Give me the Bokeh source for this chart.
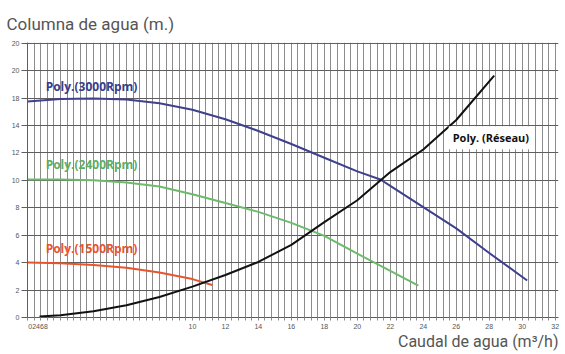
import numpy as np
from bokeh.plotting import figure
from bokeh.models import FixedTicker, Label, Range1d, Title
from bokeh.embed import file_html
from bokeh.resources import INLINE

# ---- data ----
rpm3000_x = [0.0, 2, 4, 6, 8, 10, 12, 14, 16, 18, 20, 21.4, 22, 24, 26, 28, 30.3]
rpm3000_y = [15.75, 15.93, 15.97, 15.9, 15.62, 15.15, 14.45, 13.6, 12.65, 11.65, 10.65,
             10.06, 9.6, 8.05, 6.5, 4.7, 2.7]

rpm2400_x = [0.0, 2, 4, 6, 8, 10, 12, 14, 16, 18, 20, 22, 23.7]
rpm2400_y = [10.06, 10.06, 10.0, 9.85, 9.55, 8.98, 8.35, 7.7, 6.9, 5.95, 4.65, 3.4, 2.33]

rpm1500_x = [0.0, 2, 4, 6, 8, 10, 11.2]
rpm1500_y = [4.01, 3.95, 3.83, 3.62, 3.28, 2.8, 2.37]

reseau_x = [0.73, 2, 4, 6, 8, 10, 12, 14, 16, 18, 20, 22, 24, 26, 28.3]
reseau_y = [0.07, 0.17, 0.45, 0.9, 1.5, 2.25, 3.1, 4.05, 5.3, 6.95, 8.55, 10.6, 12.25, 14.4, 17.64]

series_names = ["Poly.(3000Rpm)", "Poly.(2400Rpm)", "Poly.(1500Rpm)", "Poly. (Réseau)"]

y_tick_values = [0, 2, 4, 6, 8, 10, 12, 14, 16, 18, 20]
y_tick_labels = ["0", "2", "4", "6", "8", "10", "12", "14", "18", "20", "20"]
x_tick_values = [0.64, 10, 12, 14, 16, 18, 20, 22, 24, 26, 28, 30, 32]
x_tick_labels = ["02468", "10", "12", "14", "16", "18", "20", "22", "24", "26", "28", "30", "32"]

y_title = "Columna de agua (m.)"
x_title = "Caudal de agua (m\u00b3/h)"

# ---- figure ----
p = figure(width=560, height=353, output_backend="svg", toolbar_location=None,
           x_range=Range1d(0, 32.2), y_range=Range1d(0, 20.05), title=None,
           min_border_left=27, min_border_right=2, min_border_top=42, min_border_bottom=36)
p.outline_line_color = None
p.background_fill_color = "white"

minor_x = list(np.arange(0, 32.01, 0.4))

p.xgrid.ticker = FixedTicker(ticks=minor_x)
p.xgrid.grid_line_color = "#8c8c8c"
p.xgrid.grid_line_width = 1
p.ygrid.ticker = FixedTicker(ticks=y_tick_values)
p.ygrid.grid_line_color = "#5e5e5e"
p.ygrid.grid_line_width = 1

ax = p.xaxis[0]
ax.ticker = FixedTicker(ticks=x_tick_values, minor_ticks=minor_x)
ax.major_label_overrides = {v: l for v, l in zip(x_tick_values, x_tick_labels)}
ax.major_tick_out = 0
ax.major_tick_in = 0
ax.minor_tick_out = 3
ax.minor_tick_in = 0
ax.minor_tick_line_color = "#8c8c8c"
ax.axis_line_color = "#5e5e5e"
ax.major_label_text_font_size = "7px"
ax.major_label_text_color = "#555555"
ax.major_label_text_font = "Liberation Sans"
ax.major_label_standoff = 3

ay = p.yaxis[0]
ay.ticker = FixedTicker(ticks=y_tick_values)
ay.major_label_overrides = {v: l for v, l in zip(y_tick_values, y_tick_labels)}
ay.major_tick_out = 6
ay.major_tick_in = 0
ay.major_tick_line_color = "#5e5e5e"
ay.minor_tick_out = 0
ay.minor_tick_in = 0
ay.axis_line_color = "#5e5e5e"
ay.major_label_text_font_size = "7px"
ay.major_label_text_color = "#555555"
ay.major_label_text_font = "Liberation Sans"
ay.major_label_standoff = 2

# ---- curves ----
p.line(rpm3000_x, rpm3000_y, line_color="#3f408e", line_width=2)
p.line(rpm2400_x, rpm2400_y, line_color="#6dba6b", line_width=2)
p.line(rpm1500_x, rpm1500_y, line_color="#e8552d", line_width=2)
p.line(reseau_x, reseau_y, line_color="#111111", line_width=2)

# ---- series labels ----
lab_font = "Open Sans"
p.add_layout(Label(x=1.1, y=16.84, text=series_names[0], text_color="#3a3b8a",
                   text_font=lab_font, text_font_size="12px", text_font_style="bold",
                   text_baseline="middle"))
p.add_layout(Label(x=1.1, y=11.15, text=series_names[1], text_color="#5fae5d",
                   text_font=lab_font, text_font_size="12px", text_font_style="bold",
                   text_baseline="middle"))
p.add_layout(Label(x=1.1, y=5.03, text=series_names[2], text_color="#e8552d",
                   text_font=lab_font, text_font_size="12px", text_font_style="bold",
                   text_baseline="middle"))
p.add_layout(Label(x=28.1, y=13.1, text=series_names[3], text_color="#111111",
                   text_font=lab_font, text_font_size="11px", text_font_style="bold",
                   text_baseline="middle", text_align="center",
                   background_fill_color="white", padding=4))

# ---- axis titles ----
p.add_layout(Title(text=y_title, text_color="#555555", text_font="Roboto",
                   text_font_size="17px", text_font_style="normal",
                   align="left", offset=-21, standoff=17), "above")
p.add_layout(Title(text=x_title, text_color="#555555", text_font="Roboto",
                   text_font_size="16px", text_font_style="normal",
                   align="right", offset=0, standoff=-3), "below")

open("out.html", "w").write(file_html(p, INLINE))
